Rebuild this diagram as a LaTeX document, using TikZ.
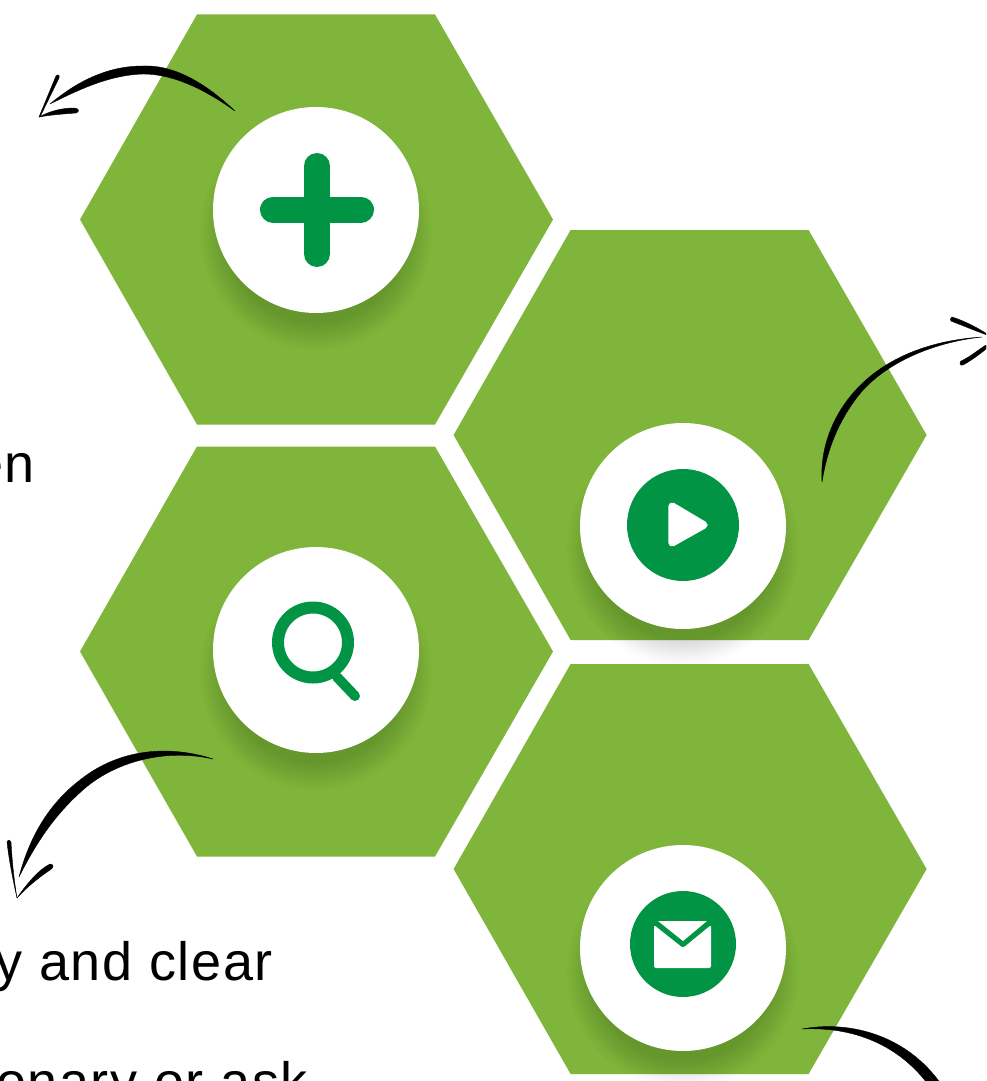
\documentclass[tikz,border=0pt]{standalone}
\usepackage{fontspec}
\setmainfont[LetterSpace=3]{Liberation Sans}
\definecolor{hexgreen}{HTML}{7FB53A}
\definecolor{icongreen}{HTML}{009444}
\tikzset{
  hexa/.style={fill=hexgreen},
  disc/.style={fill=white},
  icon/.style={fill=icongreen},
  iconline/.style={draw=icongreen,line cap=round,line join=round},
  ink/.style={fill=black,draw=black,line width=0.3pt,line join=round},
  caption/.style={inner sep=0pt,anchor=base east,text=black,font=\fontsize{40.5}{48}\selectfont}
}
\newcommand{\softshadow}[1]{%
  \begin{scope}[shift={(#1)}]
    \foreach \r in {90,92,94,96,98,100,102,104,106,108,110,113,116}{\fill[black,opacity=.010] (0,24) circle (\r);}
  \end{scope}}
\newcommand{\hexat}[1]{%
  \fill[hexa,shift={(#1)}] (197,0) -- (435,0) -- (553,205) -- (435,410) -- (197,410) -- (80,205) -- cycle;}
\begin{document}
\begin{tikzpicture}[x=0.75pt,y=-0.75pt]
\useasboundingbox (0,0) rectangle (986,1081);
\clip (0,0) rectangle (986,1081);
\fill[white] (0,0) rectangle (986,1081);

% text fragments
\node[caption] (t1) at (35,482) {en};
\node[caption] (t2) at (273,980) {y and clear};
\node[caption] (t3) at (308,1100) {onary or ask};

% hexagons, shadows, discs
\hexat{0,14.5}
\softshadow{316,210}
\fill[disc] (316,210) circle (103);

\hexat{373.6,230}
\softshadow{683,526}
\fill[disc] (683,526) circle (103);

\hexat{0,446.5}
\softshadow{316,650}
\fill[disc] (316,650) circle (103);

\hexat{373.6,664}
\softshadow{683,948}
\fill[disc] (683,948) circle (103);

% plus icon
\draw[iconline,line width=19.5pt] (273,209.5) -- (361,209.5) (317,166) -- (317,254);

% search icon
\draw[iconline,line width=9pt] (313,642.5) circle (35);
\draw[iconline,line width=7.5pt] (337,677) -- (355,696);

% play icon
\fill[icon] (683,525) circle (56);
\draw[fill=white,draw=white,line width=5.5pt,line join=round] (672,506) -- (704,525) -- (672,543) -- cycle;

% mail icon
\fill[icon] (683,944) circle (53);
\fill[white,rounded corners=1.5pt] (654,925) -- (683,948) -- (711,925) -- (711,968) -- (654,968) -- cycle;
\fill[white] (658,921) -- (707,921) -- (683,941) -- cycle;

% hand-drawn arrows
\fill[ink] (235,111) .. controls (200,78) and (170,65) .. (143,66)
  .. controls (110,66) and (80,79) .. (50,104)
  .. controls (80,89) and (110,75) .. (143,74)
  .. controls (170,74) and (200,86) .. (235,111) -- cycle;
\fill[ink] (39,117) -- (56,76) .. controls (58,74) and (60,75) .. (59,78) -- (40,117) -- cycle;
\fill[ink] (39,117) .. controls (50,111) and (62,108) .. (74,108)
  .. controls (79,108) and (80,112) .. (76,113) .. controls (62,114) and (50,115) .. (39,117) -- cycle;

\fill[ink] (822,482) .. controls (818,425) and (860,345) .. (982,337)
  .. controls (935,342) and (885,362) .. (858,396)
  .. controls (838,422) and (827,450) .. (822,482) -- cycle;
\fill[ink] (952,317) .. controls (965,321) and (980,329) .. (990,336)
  .. controls (978,332) and (964,326) .. (951,321)
  .. controls (950,320) and (950,318) .. (952,317) -- cycle;
\fill[ink] (986,345) .. controls (978,350) and (970,357) .. (961,361)
  .. controls (959,363) and (960,366) .. (963,365)
  .. controls (972,360) and (980,354) .. (986,349) -- cycle;

\fill[ink] (213,759) .. controls (170,745) and (120,748) .. (80,780)
  .. controls (50,803) and (30,835) .. (19,877)
  .. controls (35,845) and (54,815) .. (84,789)
  .. controls (115,762) and (165,748) .. (213,759) -- cycle;
\fill[ink] (17,898) .. controls (13,880) and (9,860) .. (7,842)
  .. controls (8,839) and (11,840) .. (11,842)
  .. controls (12,860) and (14,880) .. (17,898) -- cycle;
\fill[ink] (17,898) .. controls (26,885) and (38,870) .. (50,864)
  .. controls (54,864) and (54,868) .. (50,870)
  .. controls (38,878) and (26,888) .. (17,898) -- cycle;

\fill[ink] (802,1029) .. controls (850,1020) and (910,1035) .. (945,1090)
  -- (932,1090) .. controls (905,1050) and (860,1026) .. (802,1029) -- cycle;
\end{tikzpicture}
\end{document}
